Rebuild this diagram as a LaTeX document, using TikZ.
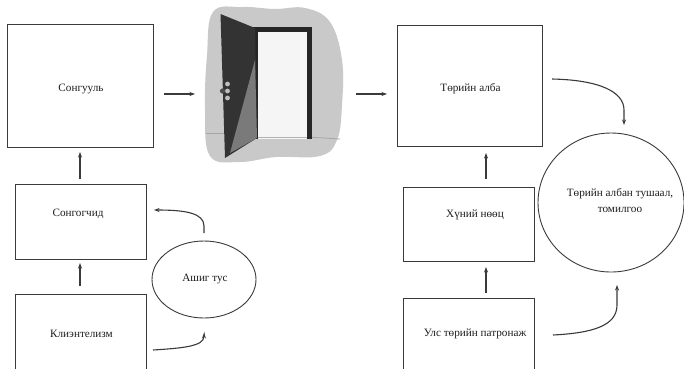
\documentclass[tikz,border=0pt]{standalone}
\usepackage{fontspec}
\setmainfont{Liberation Serif}
\usetikzlibrary{arrows.meta,shapes.geometric}
\definecolor{linec}{HTML}{3A3A3A}
\definecolor{txtc}{HTML}{1E1E1E}
\definecolor{blob}{HTML}{C9C9C9}
\definecolor{leaf}{HTML}{333333}
\definecolor{wedge}{HTML}{7A7A7A}
\definecolor{frame}{HTML}{262626}
\definecolor{opening}{HTML}{F5F5F5}
\definecolor{knob}{HTML}{BDBDBD}
\begin{document}
\begin{tikzpicture}[x=1pt,y=-1pt,
  box/.style={draw=linec, line width=0.9pt, rectangle, inner sep=0pt},
  oval/.style={draw=linec, line width=0.9pt, ellipse, inner sep=0pt},
  lab/.style={font=\fontsize{11.2}{16}\selectfont, text=txtc, inner sep=0pt, align=center},
  conn/.style={draw=linec, line width=1.1pt, -{Stealth[length=5.5pt,width=4pt]}},
]
\clip (0,0) rectangle (684,368);
\fill[white] (0,0) rectangle (684,368);

% ---------- boxes ----------
\node[box, minimum width=146pt, minimum height=123pt] (b1) at (80,85.5) {};
\node[box, minimum width=131pt, minimum height=75pt]  (b2) at (80.5,221.5) {};
\node[box, minimum width=131pt, minimum height=80pt]  (b3) at (80.5,334) {};
\node[box, minimum width=145pt, minimum height=121pt] (b4) at (469.5,85.5) {};
\node[box, minimum width=131pt, minimum height=74pt]  (b5) at (468.5,224) {};
\node[box, minimum width=131pt, minimum height=72pt]  (b6) at (468.5,334) {};
\node[oval, minimum width=104pt, minimum height=77pt] (e1) at (204,279.5) {};
\node[oval, minimum width=146pt, minimum height=139pt] (e2) at (611,202.5) {};

% ---------- texts ----------
\node[lab] (t1) at (81,89) {Сонгууль};
\node[lab] (t2) at (78,214) {Сонгогчид};
\node[lab] (t3) at (81.5,333.5) {Клиэнтелизм};
\node[lab] (t4) at (470.5,89) {Төрийн алба};
\node[lab] (t5) at (475,215) {Хүний нөөц};
\node[lab] (t6) at (475,333.5) {Улс төрийн патронаж};
\node[lab] (t7) at (205,279) {Ашиг тус};
\node[lab] (t8) at (620,201) {Төрийн албан тушаал,\\томилгоо};

% ---------- door picture ----------
\fill[blob] plot[smooth cycle, tension=0.65] coordinates {
  (213,12) (242,7) (275,9) (305,8) (330,22) (342,60) (342,105) (337,140) (320,156)
  (276,157) (240,162) (210,156) (205,110) (207,55)};
\draw[gray!70, line width=0.8pt] (206,133) -- (224,133);
\draw[gray!70, line width=0.8pt] (307,137) -- (340,139);
\fill[frame] (253,27) rectangle (312,138.5);
\fill[opening] (258,32) rectangle (307,138.5);
\draw[gray!60, line width=0.8pt] (258,137.5) -- (307,137.5);
\fill[leaf] (220.5,14) -- (255,28) -- (257,138) -- (225,158) -- cycle;
\fill[wedge] (255,60) -- (257,138) -- (230,153) -- cycle;
\fill[knob] (227.5,84) circle (2.4);
\fill[knob] (227.5,91) circle (2.4);
\fill[knob] (227.5,98) circle (2.4);
\fill[gray!60!black] (222.5,91) circle (2.6);

% ---------- connector end points ----------
\coordinate (p1) at (164,94);  \coordinate (q1) at (195,94);
\coordinate (p2) at (356,94);  \coordinate (q2) at (387,94);
\coordinate (p3) at (80,179);  \coordinate (q3) at (80,152);
\coordinate (p4) at (80,286);  \coordinate (q4) at (80,263);
\coordinate (p5) at (486,179); \coordinate (q5) at (486,153);
\coordinate (p6) at (486,293); \coordinate (q6) at (486,267);
\coordinate (p7) at (204,233); \coordinate (q7) at (154,210);
\coordinate (p8) at (153,350); \coordinate (q8) at (204,333);
\coordinate (p9) at (552,79);  \coordinate (q9) at (624,125);
\coordinate (p10) at (553,335); \coordinate (q10) at (617,285);

% ---------- connectors ----------
\draw[conn] (p1) -- (q1);
\draw[conn] (p2) -- (q2);
\draw[conn] (p3) -- (q3);
\draw[conn] (p4) -- (q4);
\draw[conn] (p5) -- (q5);
\draw[conn] (p6) -- (q6);
\draw[conn] (p7) -- (204,226) .. controls (204,213) and (185,210) .. (q7);
\draw[conn] (p8) .. controls (185,348) and (204,346) .. (204,336) -- (q8);
\draw[conn] (p9) .. controls (600,80) and (624,92) .. (624,110) -- (q9);
\draw[conn] (p10) .. controls (592,333) and (617,326) .. (617,305) -- (q10);
\end{tikzpicture}
\end{document}
